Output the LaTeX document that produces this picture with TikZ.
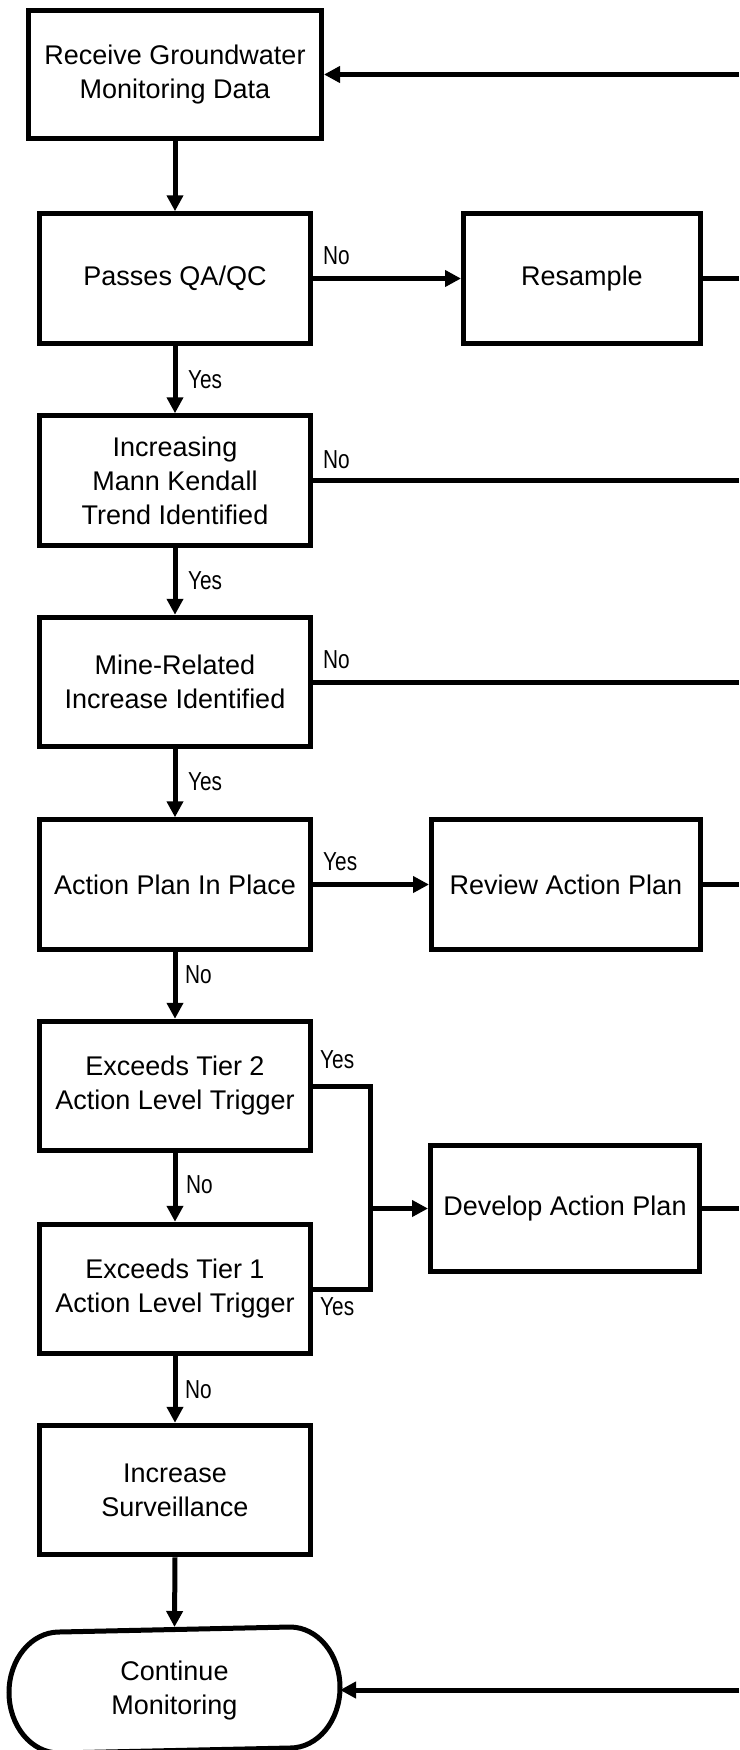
\documentclass[tikz,border=0pt]{standalone}
\usepackage{fontspec}
\setmainfont{Liberation Sans}
\newfontfamily\labfont{Liberation Sans}[FakeStretch=0.8]
\usetikzlibrary{arrows.meta}
\begin{document}
\begin{tikzpicture}[x=1pt,y=-1pt,
  box/.style={draw, line width=5pt, inner sep=0pt, align=center,
    font=\fontsize{27}{34}\selectfont, minimum width=271.5pt, minimum height=129.5pt},
  lab/.style={font=\labfont\fontsize{26}{28}\selectfont, inner sep=0pt, anchor=base west},
  conn/.style={line width=5pt},
  arr/.style={conn, -{Triangle[length=16pt,width=16pt]}}]
\useasboundingbox (0,0) rectangle (739,1750);
\fill[white] (0,0) rectangle (739,1750);

\node[box, minimum width=293pt, minimum height=128.5pt] (receive) at (175,74.5) {Receive Groundwater\\Monitoring Data};
\node[box] (passes) at (175,278.5) {Passes QA/QC};
\node[box, minimum width=237pt] (resample) at (582,278.5) {Resample};
\node[box] (trend) at (175,480.5) {Increasing\\Mann Kendall\\Trend Identified};
\node[box] (mine) at (175,682) {Mine-Related\\Increase Identified};
\node[box] (inplace) at (175,884.5) {Action Plan In Place};
\node[box, minimum width=269pt] (review) at (566,884.5) {Review Action Plan};
\node[box] (tier2) at (175,1086) {Exceeds Tier 2\\Action Level Trigger};
\node[box] (tier1) at (175,1289) {Exceeds Tier 1\\Action Level Trigger};
\node[box, minimum width=269pt, minimum height=126.5pt] (develop) at (565,1208.5) {Develop Action Plan};
\node[box] (surv) at (175,1490) {Increase\\Surveillance};
\node[box, draw=none, minimum width=326pt, minimum height=121pt] (cont) at (174.5,1690) {Continue\\Monitoring};
\draw[line width=5pt] ([xshift=-50pt]cont.north east)
  arc[start angle=-90, end angle=90, x radius=50, y radius=60.5]
  -- ([xshift=50pt]cont.south west)
  arc[start angle=90, end angle=270, x radius=50, y radius=60.5] -- cycle;

\coordinate (E) at (739,0);
\coordinate (J) at (370,0);

\draw[arr] (receive -| E) -- (receive.east);
\draw[arr] (receive.south) -- (passes.north);
\draw[arr] (passes.east) -- (resample.west);
\draw[conn] (resample.east) -- (resample -| E);
\draw[arr] (passes.south) -- (trend.north);
\draw[conn] (trend.east) -- (trend -| E);
\draw[arr] (trend.south) -- (mine.north);
\draw[conn] (mine.east) -- (mine -| E);
\draw[arr] (mine.south) -- (inplace.north);
\draw[arr] (inplace.east) -- (review.west);
\draw[conn] (review.east) -- (review -| E);
\draw[arr] (inplace.south) -- (tier2.north);
\draw[conn] (tier2.east) -- (tier2 -| J) -- (tier1 -| J) -- (tier1.east);
\draw[arr] (develop -| J) -- (develop.west);
\draw[conn] (develop.east) -- (develop -| E);
\draw[arr] (tier2.south) -- (tier1.north);
\draw[arr] (tier1.south) -- (surv.north);
\draw[arr] (surv.south) -- (cont.north);
\draw[arr] (cont -| E) -- (cont.east);

\node[lab] (l1) at (323,264) {No};
\node[lab] (l2) at (188,388) {Yes};
\node[lab] (l3) at (323,468) {No};
\node[lab] (l4) at (188,589) {Yes};
\node[lab] (l5) at (323,668) {No};
\node[lab] (l6) at (188,790) {Yes};
\node[lab] (l7) at (323,870) {Yes};
\node[lab] (l8) at (185,983) {No};
\node[lab] (l9) at (320,1068) {Yes};
\node[lab] (l10) at (186,1193) {No};
\node[lab] (l11) at (320,1315) {Yes};
\node[lab] (l12) at (185,1398) {No};
\end{tikzpicture}
\end{document}
